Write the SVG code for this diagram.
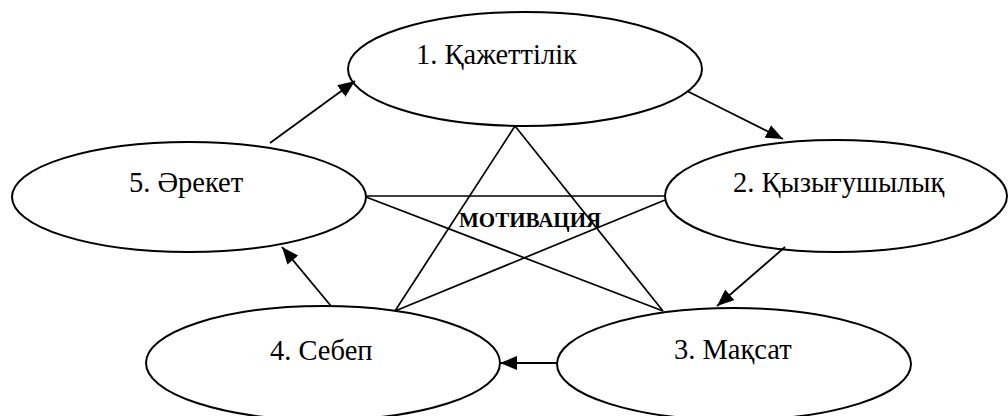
<svg xmlns="http://www.w3.org/2000/svg" width="1008" height="416" viewBox="0 0 1008 416">
<style>
.node ellipse{fill:#fff;stroke:#000;stroke-width:2}
.lbl{font-family:"Liberation Serif","Times New Roman",serif;font-size:28.5px;fill:#000}
.center{font-family:"Liberation Serif","Times New Roman",serif;font-size:21px;font-weight:bold;fill:#000}
.star line{stroke:#000;stroke-width:1.7}
.arrow{stroke:#000;stroke-width:1.8;marker-end:url(#ah)}
</style>
<defs>
<marker id="ah" markerUnits="userSpaceOnUse" markerWidth="18" markerHeight="14" refX="17" refY="7" orient="auto">
<path d="M0,0 L17,7 L0,14 z" fill="#000"/>
</marker>
</defs>
<rect width="1008" height="416" fill="#fff"/>
<g id="node1" class="node"><ellipse cx="525" cy="69" rx="177" ry="57"/><text class="lbl" x="416" y="64">1. Қажеттілік</text></g>
<g id="node2" class="node"><ellipse cx="836" cy="196" rx="171" ry="56"/><text class="lbl" x="733" y="192">2. Қызығушылық</text></g>
<g id="node3" class="node"><ellipse cx="734" cy="364" rx="177" ry="56"/><text class="lbl" x="674" y="359">3. Мақсат</text></g>
<g id="node4" class="node"><ellipse cx="323" cy="363" rx="177" ry="57"/><text class="lbl" x="270" y="360">4. Себеп</text></g>
<g id="node5" class="node"><ellipse cx="189" cy="197" rx="177" ry="55"/><text class="lbl" x="129" y="192">5. Әрекет</text></g>
<g id="connectors">
<g class="star">
<line x1="515" y1="126" x2="395" y2="311"/>
<line x1="515" y1="126" x2="663" y2="311"/>
<line x1="366" y1="196" x2="665" y2="196"/>
<line x1="366" y1="197" x2="663" y2="311"/>
<line x1="665" y1="200" x2="395" y2="311"/>
</g>
<line class="arrow" x1="270" y1="143" x2="355" y2="81"/>
<line class="arrow" x1="687" y1="91" x2="783" y2="139"/>
<line class="arrow" x1="785" y1="247" x2="717" y2="306"/>
<line class="arrow" x1="557" y1="363" x2="500" y2="363"/>
<line class="arrow" x1="331" y1="306" x2="282" y2="247"/>
</g>
<text id="motivation" class="center" x="459" y="227">МОТИВАЦИЯ</text>
</svg>
